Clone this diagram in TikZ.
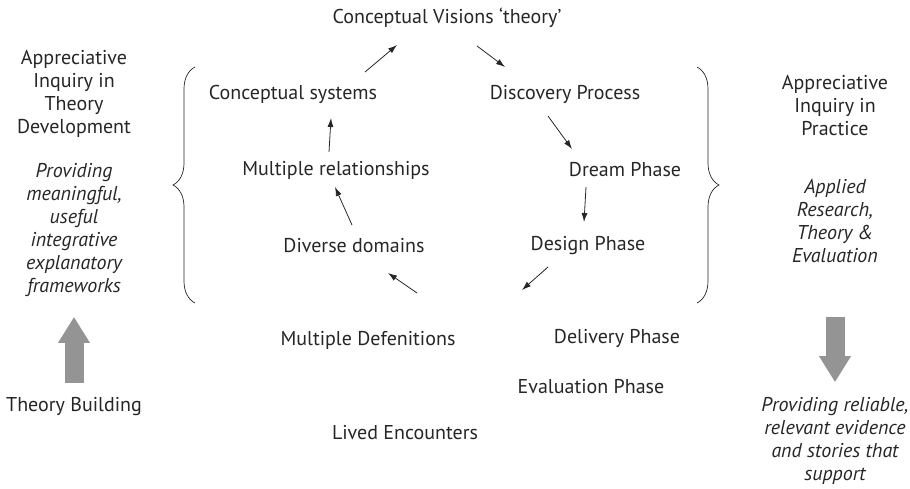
\documentclass[tikz,border=0pt]{standalone}
\usepackage{fontspec}
\setmainfont{PT Sans}
\usetikzlibrary{arrows.meta}
\usetikzlibrary{decorations.pathreplacing}
\usetikzlibrary{positioning}

\tikzset{
  lbl/.style={font=\fontsize{20}{23}\selectfont, text=black!85, inner sep=1pt, align=center},
  ital/.style={lbl, font=\fontsize{20}{23}\selectfont\itshape},
  bigarrow/.style={draw=black!42, line width=19pt, -{Triangle[length=26pt,width=30pt]}},
  curly/.style={draw=black!85, line width=0.7pt, decorate, decoration={brace, amplitude=22pt}}
}

\begin{document}
\begin{tikzpicture}[x=1pt,y=-1pt]
	\useasboundingbox (0,0) rectangle (910,488);

	\begin{scope}[every node/.style={lbl}]
		\node (vis) at (447,18) {Conceptual Visions ‘theory’};
		\node (csys) at (293,94) {Conceptual systems};
		\node (disc) at (565,94) {Discovery Process};
		\node (mrel) at (336,170) {Multiple relationships};
		\node (dream) at (625,170) {Dream Phase};
		\node (dom) at (354,246) {Diverse domains};
		\node (design) at (588,246) {Design Phase};
		\node (mdef) at (368,340) {Multiple Defenitions};
		\node (deliv) at (617,338) {Delivery Phase};
		\node (eval) at (591,387) {Evaluation Phase};
		\node (lived) at (405,433) {Lived Encounters};
		\node (aitheo) at (74,94) {Appreciative\\Inquiry in\\Theory\\Development};
		\node (aiprac) at (835,106) {Appreciative\\Inquiry in\\Practice};
		\node (build) at (74,407) {Theory Building};
	\end{scope}

	\begin{scope}[every node/.style={ital}]
		\node (provl) at (74,230) {Providing\\meaningful,\\useful\\integrative\\explanatory\\frameworks};
		\node (appl) at (835,221) {Applied\\Research,\\Theory \&\\Evaluation};
		\node (provr) at (835,441) {Providing reliable,\\relevant evidence\\and stories that\\support};
	\end{scope}

	% the cycle
	\begin{scope}[>={Latex[length=9pt,width=6pt]},
	              every edge/.style={draw=black!85, line width=0.8pt, ->}]
		\path ([shift={(72,-22)}]csys.center) edge ([shift={(-50,27)}]vis.center);
		\path ([shift={(30,28)}]vis.center) edge ([shift={(-60,-27)}]disc.center);
		\path ([shift={(-17,22)}]disc.center) edge ([shift={(-53,-21)}]dream.center);
		\path ([shift={(-39,17)}]dream.center) edge ([shift={(-4,-24)}]design.center);
		\path ([shift={(-40,21)}]design.center) edge ([shift={(-66,44)}]design.center);
		\path ([shift={(63,47)}]dom.center) edge ([shift={(34,27)}]dom.center);
		\path ([shift={(-2,-21)}]dom.center) edge ([shift={(-1,17)}]mrel.center);
		\path ([shift={(-7,-18)}]mrel.center) edge ([shift={(38,24)}]csys.center);
	\end{scope}

	% braces
	\draw[curly] (195,303) -- (195,67);
	\draw[curly] (697,67) -- (697,303);

	% grey arrows
	\draw[bigarrow, shorten <=14pt, shorten >=19pt] (build) -- (provl);
	\draw[bigarrow, shorten <=53pt, shorten >=14pt] (appl) -- (provr);
\end{tikzpicture}
\end{document}
